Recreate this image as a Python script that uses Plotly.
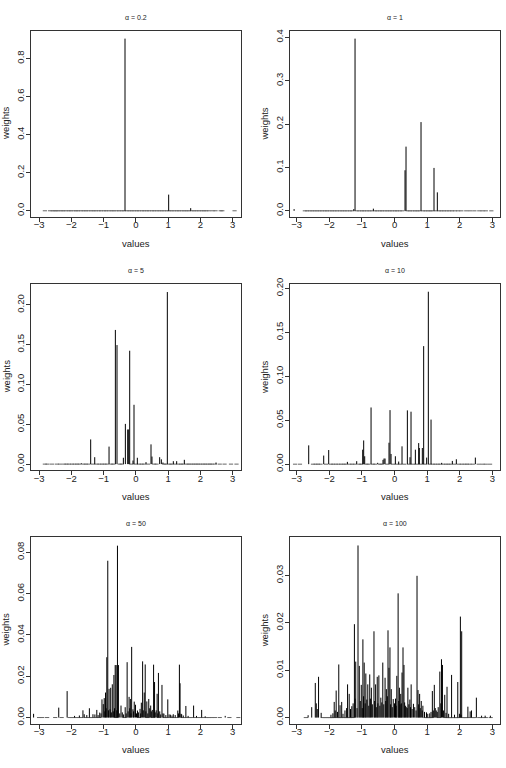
import plotly.graph_objects as go

# ---------------- data ----------------
alpha_labels = ["0.2", "1", "5", "10", "50", "100"]
x_tick_values = [-3, -2, -1, 0, 1, 2, 3]

# alpha = 0.2
a1_x = [-0.336, 1.017, 1.70]
a1_w = [0.904, 0.085, 0.014]
a1_dust = [-2.82, -2.66, -2.58, -2.52, -2.46, -2.4, -2.31, -2.25, -2.17, -2.08, -2.02, -1.93,
           -1.85, -1.79, -1.7, -1.62, -1.55, -1.47, -1.38, -1.31, -1.24, -1.15, -1.08, -0.99,
           -0.92, -0.84, -0.75, -0.69, -0.6, -0.52, -0.44, -0.37, -0.28, -0.2, -0.13, -0.05,
           0.03, 0.1, 0.19, 0.26, 0.34, 0.41, 0.5, 0.57, 0.65, 0.73, 0.8, 0.88, 0.96, 1.04,
           1.11, 1.19, 1.27, 1.34, 1.42, 1.5, 1.57, 1.64, 1.73, 1.81, 1.88, 1.96, 2.04, 2.11,
           2.18, 2.26, 2.38, 2.47, 2.63, 2.68, 3.06]

# alpha = 1
a2_x = [-3.08, -1.25, -1.211, -0.649, 0.322, 0.353, 0.813, 1.211, 1.313]
a2_w = [0.004, 0.004, 0.397, 0.005, 0.0935, 0.148, 0.2046, 0.0989, 0.0426]
a2_dust = [-2.75, -2.68, -2.6, -2.52, -2.45, -2.37, -2.3, -2.22, -2.14, -2.07, -1.99, -1.91,
           -1.84, -1.76, -1.68, -1.6, -1.53, -1.45, -1.37, -1.3, -1.16, -1.08, -1.0, -0.93,
           -0.85, -0.77, -0.7, -0.6, -0.53, -0.45, -0.38, -0.3, -0.22, -0.15, -0.07, 0.01,
           0.08, 0.16, 0.24, 0.4, 0.47, 0.55, 0.63, 0.7, 0.77, 0.88, 0.95, 1.03, 1.1, 1.16,
           1.27, 1.37, 1.44, 1.52, 1.6, 1.68, 1.76, 1.85, 1.95, 2.05, 2.2, 2.32, 2.45, 2.6,
           2.7, 2.8, 2.97]

# alpha = 5
a3_x = [-1.69, -1.40, -1.275, -0.831, -0.635, -0.584, -0.387, -0.325, -0.253, -0.222, -0.191,
        -0.088, -0.057, 0.046, 0.315, 0.47, 0.50, 0.738, 0.79, 0.84, 0.976, 1.162, 1.265,
        1.503, 2.485]
a3_w = [0.001, 0.031, 0.0087, 0.022, 0.1685, 0.1495, 0.008, 0.0505, 0.0435, 0.0435, 0.1424,
        0.0045, 0.0745, 0.008, 0.0025, 0.0248, 0.0095, 0.0087, 0.006, 0.002, 0.2161, 0.0037,
        0.0037, 0.0054, 0.002]
a3_dust = [-2.82, -2.74, -2.6, -2.45, -2.35, -2.22, -2.15, -2.07, -1.98, -1.9, -1.82, -1.75,
           -1.62, -1.55, -1.47, -1.33, -1.21, -1.13, -1.05, -0.97, -0.9, -0.76, -0.7, -0.5,
           -0.44, -0.14, 0.0, 0.1, 0.18, 0.25, 0.38, 0.57, 0.64, 0.88, 0.93, 1.05, 1.1, 1.21,
           1.32, 1.4, 1.46, 1.58, 1.64, 1.72, 1.79, 1.86, 1.93, 2.0, 2.08, 2.15, 2.22, 2.3,
           2.35, 2.45, 2.6, 2.75, 2.95, 3.12]

# alpha = 10
a4_x = [-2.632, -2.172, -2.019, -1.446, -1.16, -0.976, -0.946, -0.915, -0.72, -0.516, -0.353,
        -0.322, -0.291, -0.169, -0.138, -0.107, 0.026, 0.128, 0.23, 0.394, 0.475, 0.506, 0.639,
        0.741, 0.761, 0.853, 0.894, 0.986, 1.037, 1.12, 1.446, 1.773, 1.896, 2.479]
a4_w = [0.0214, 0.0098, 0.0161, 0.0026, 0.0034, 0.0165, 0.027, 0.009, 0.0645, 0.0015, 0.0049,
        0.0064, 0.0064, 0.0244, 0.0615, 0.0116, 0.009, 0.003, 0.0203, 0.0612, 0.0079, 0.0597,
        0.0165, 0.024, 0.0184, 0.0184, 0.1343, 0.0075, 0.1962, 0.0507, 0.0015, 0.0037, 0.0056,
        0.0075]
a4_dust = [-3.05, -2.9, -2.5, -2.42, -2.35, -2.27, -2.1, -1.95, -1.88, -1.8, -1.72, -1.64,
           -1.56, -1.5, -1.38, -1.3, -1.22, -1.08, -1.02, -0.86, -0.8, -0.66, -0.6, -0.45,
           -0.4, -0.22, -0.05, 0.07, 0.17, 0.3, 0.45, 0.57, 0.68, 0.8, 0.93, 1.08, 1.18, 1.25,
           1.33, 1.4, 1.5, 1.58, 1.65, 1.72, 1.84, 1.98, 2.06, 2.15, 2.22, 2.3, 2.4, 2.58,
           2.7, 2.8, 2.93]

# alpha = 50
a5_x = [-3.17, -2.39, -2.13, -1.9, -1.75, -1.64, -1.60, -1.52, -1.44, -1.33, -1.27, -1.21,
        -1.17, -1.12, -1.08, -1.05, -1.01, -0.98, -0.96, -0.94, -0.92, -0.90, -0.87, -0.85,
        -0.83, -0.80, -0.78, -0.76, -0.73, -0.70, -0.68, -0.66, -0.64, -0.61, -0.59, -0.57,
        -0.54, -0.50, -0.46, -0.42, -0.38, -0.33, -0.30, -0.27, -0.24, -0.21, -0.19, -0.17,
        -0.15, -0.13, -0.09, -0.07, -0.05, -0.01, 0.02, 0.05, 0.08, 0.13, 0.15, 0.17, 0.21,
        0.23, 0.26, 0.29, 0.31, 0.34, 0.37, 0.40, 0.43, 0.46, 0.48, 0.51, 0.55, 0.58, 0.60,
        0.63, 0.66, 0.68, 0.70, 0.74, 0.77, 0.81, 0.84, 0.87, 0.93, 0.99, 1.03, 1.07, 1.12,
        1.16, 1.22, 1.30, 1.32, 1.35, 1.37, 1.40, 1.42, 1.47, 1.55, 1.62, 1.79, 1.88, 2.04,
        2.15, 2.77]
a5_w = [0.0018, 0.0048, 0.0128, 0.0008, 0.001, 0.0035, 0.0016, 0.0012, 0.0045, 0.0016,
        0.0015, 0.0037, 0.0012, 0.0024, 0.002, 0.0088, 0.0065, 0.0094, 0.003, 0.0121, 0.0045,
        0.0292, 0.0759, 0.0035, 0.0139, 0.004, 0.0144, 0.0025, 0.0161, 0.003, 0.0206, 0.0045,
        0.0254, 0.0254, 0.0035, 0.0832, 0.0254, 0.002, 0.0058, 0.0025, 0.0015, 0.005, 0.002,
        0.0268, 0.003, 0.01, 0.0045, 0.009, 0.002, 0.0342, 0.004, 0.003, 0.0077, 0.0062,
        0.002, 0.0034, 0.0025, 0.0042, 0.002, 0.0072, 0.0272, 0.0035, 0.0121, 0.0257, 0.003,
        0.0078, 0.002, 0.009, 0.0045, 0.0058, 0.003, 0.0037, 0.0256, 0.0172, 0.0025, 0.0035,
        0.0115, 0.002, 0.0216, 0.003, 0.0015, 0.0158, 0.002, 0.0019, 0.0012, 0.0088, 0.0015,
        0.0014, 0.001, 0.0016, 0.0012, 0.0034, 0.002, 0.0256, 0.0166, 0.0018, 0.0016, 0.001,
        0.0056, 0.0008, 0.0058, 0.0008, 0.0037, 0.0006, 0.0008]
a5_dust = [-3.0, -2.9, -2.75, -2.5, -2.3, -2.05, -1.98, -1.92, -1.84, -1.78, -1.7, -1.56,
           -1.48, -1.4, -1.36, -1.24, -1.14, -0.6, -0.35, 0.1, 0.36, 0.53, 0.72, 0.9, 0.96,
           1.1, 1.19, 1.26, 1.45, 1.5, 1.58, 1.67, 1.72, 1.84, 1.93, 2.0, 2.1, 2.2, 2.27,
           2.35, 2.45, 2.6, 2.9, 3.18]

# alpha = 100
a6_x = [-2.65, -2.54, -2.43, -2.40, -2.37, -2.33, -2.25, -1.95, -1.89, -1.85, -1.82, -1.79,
        -1.75, -1.71, -1.67, -1.62, -1.58, -1.52, -1.47, -1.44, -1.39, -1.35, -1.31, -1.27,
        -1.23, -1.21, -1.19, -1.15, -1.12, -1.08, -1.05, -1.02, -0.99, -0.97, -0.95, -0.93,
        -0.90, -0.88, -0.85, -0.82, -0.79, -0.76, -0.74, -0.71, -0.68, -0.63, -0.61, -0.58,
        -0.56, -0.53, -0.51, -0.48, -0.45, -0.42, -0.39, -0.36, -0.33, -0.29, -0.27, -0.25,
        -0.22, -0.20, -0.17, -0.14, -0.12, -0.10, -0.07, -0.04, 0.0, 0.03, 0.05, 0.07, 0.11,
        0.13, 0.15, 0.17, 0.19, 0.21, 0.23, 0.26, 0.29, 0.31, 0.34, 0.36, 0.39, 0.41, 0.44,
        0.47, 0.49, 0.51, 0.54, 0.58, 0.62, 0.66, 0.69, 0.72, 0.74, 0.77, 0.79, 0.82, 0.85,
        0.87, 0.92, 0.98, 1.02, 1.08, 1.12, 1.16, 1.19, 1.22, 1.25, 1.28, 1.31, 1.34, 1.39,
        1.42, 1.44, 1.47, 1.50, 1.54, 1.58, 1.61, 1.66, 1.75, 1.84, 1.94, 1.99, 2.02, 2.04,
        2.06, 2.25, 2.32, 2.36, 2.51, 2.67, 2.78, 2.94]
a6_w = [0.0005, 0.0022, 0.0073, 0.003, 0.0018, 0.0086, 0.001, 0.0006, 0.0009, 0.0033, 0.0015,
        0.0057, 0.0012, 0.0112, 0.0026, 0.0033, 0.0008, 0.0015, 0.002, 0.007, 0.005, 0.0018,
        0.0024, 0.003, 0.0197, 0.004, 0.0118, 0.002, 0.0363, 0.0109, 0.0035, 0.0069, 0.002,
        0.0165, 0.0045, 0.0116, 0.003, 0.0093, 0.0038, 0.007, 0.0025, 0.0091, 0.004, 0.0063,
        0.0028, 0.0182, 0.0035, 0.007, 0.0022, 0.0086, 0.003, 0.0089, 0.0025, 0.0042, 0.0032,
        0.0116, 0.0028, 0.0084, 0.0035, 0.006, 0.0045, 0.0184, 0.0105, 0.0148, 0.0028, 0.006,
        0.0022, 0.0039, 0.003, 0.004, 0.0025, 0.0088, 0.0262, 0.0035, 0.0063, 0.0028, 0.005,
        0.003, 0.0095, 0.0148, 0.0111, 0.0032, 0.0025, 0.0022, 0.002, 0.0063, 0.0028, 0.0038,
        0.0022, 0.007, 0.0018, 0.0029, 0.0022, 0.0015, 0.0299, 0.0058, 0.0028, 0.005, 0.002,
        0.0035, 0.0015, 0.0025, 0.0012, 0.0011, 0.0008, 0.0009, 0.0012, 0.0056, 0.0015, 0.0069,
        0.002, 0.0015, 0.0012, 0.0022, 0.0097, 0.003, 0.0123, 0.0111, 0.0015, 0.0048, 0.001,
        0.0065, 0.0008, 0.009, 0.0006, 0.0075, 0.0008, 0.0213, 0.0006, 0.0182, 0.0023, 0.0013,
        0.0015, 0.0042, 0.0004, 0.0004, 0.0004]
a6_dust = [-2.72, -2.2, -2.14, -2.08, -2.02, -1.98, -1.92, -1.87, -1.77, -1.69, -1.64, -1.55,
           -1.49, -1.42, -1.37, -1.29, 0.95, 1.0, 1.05, 1.1, 1.14, 1.36, 1.56, 1.63, 1.68,
           1.71, 1.78, 1.81, 1.88, 1.91, 1.97, 2.1, 2.15, 2.2, 2.28, 2.4, 2.45, 2.6, 2.7,
           2.8, 2.95]

spike_x = [a1_x, a2_x, a3_x, a4_x, a5_x, a6_x]
spike_w = [a1_w, a2_w, a3_w, a4_w, a5_w, a6_w]
dust_x = [a1_dust, a2_dust, a3_dust, a4_dust, a5_dust, a6_dust]

# ---------------- layout ----------------
W, H = 506, 768
col_px = [(31.0, 240.7), (289.7, 500.0)]
row_px = [(25.0, 213.3), (281.0, 469.3), (537.0, 725.3)]
x_ranges = [[-3.25, 3.25], [-3.215, 3.235]]
y_ranges = [[-0.033, 0.9455], [-0.0144, 0.4152], [-0.0079, 0.2261],
            [-0.0071, 0.2049], [-0.0030, 0.0872], [-0.0013, 0.0380]]
y_dticks = [0.2, 0.1, 0.05, 0.05, 0.02, 0.01]
y_formats = [".1f", ".1f", ".2f", ".2f", ".2f", ".2f"]

FONT = "Liberation Sans, Arial, sans-serif"
INK = "#222222"

fig = go.Figure()
layout = dict(width=W, height=H, margin=dict(l=0, r=0, t=0, b=0),
              paper_bgcolor="white", plot_bgcolor="white", showlegend=False,
              font=dict(family=FONT, size=9, color=INK))
annotations = []

for i in range(6):
    r, c = divmod(i, 2)
    n = i + 1
    xa = "x" if n == 1 else f"x{n}"
    ya = "y" if n == 1 else f"y{n}"
    xs, ys = [], []
    for xv, wv in zip(spike_x[i], spike_w[i]):
        xs += [xv, xv, None]
        ys += [0, wv, None]
    fig.add_trace(go.Scatter(x=dust_x[i], y=[0] * len(dust_x[i]), mode="markers",
                             xaxis=xa, yaxis=ya, hoverinfo="skip",
                             marker=dict(symbol="line-ew", size=3,
                                         line=dict(color="#666666", width=1))))
    fig.add_trace(go.Scatter(x=xs, y=ys, mode="lines", xaxis=xa, yaxis=ya,
                             line=dict(color="black", width=1), hoverinfo="skip"))
    x0, x1 = col_px[c]
    y0, y1 = row_px[r]
    xd = [x0 / W, x1 / W]
    yd = [1 - y1 / H, 1 - y0 / H]
    axcommon = dict(showline=True, mirror=True, linecolor="#333333", linewidth=1,
                    ticks="outside", ticklen=4, tickwidth=1, tickcolor="#333333",
                    showgrid=False, zeroline=False, tickfont=dict(size=9.5, color=INK))
    layout["xaxis" if n == 1 else f"xaxis{n}"] = dict(
        axcommon, domain=xd, range=x_ranges[c], tickvals=x_tick_values,
        anchor=ya, ticklabelstandoff=-5)
    layout["yaxis" if n == 1 else f"yaxis{n}"] = dict(
        axcommon, domain=yd, range=y_ranges[i], tick0=0, dtick=y_dticks[i],
        tickformat=y_formats[i], tickangle=-90, anchor=xa, ticklabelstandoff=-2)
    xc = (xd[0] + xd[1]) / 2
    annotations.append(dict(text="α = " + alpha_labels[i], x=xc, y=yd[1], xref="paper",
                            yref="paper", yanchor="middle", xanchor="center", yshift=13.5,
                            showarrow=False, font=dict(size=7, color=INK)))
    annotations.append(dict(text="values", x=xc, y=yd[0], xref="paper", yref="paper",
                            yanchor="middle", xanchor="center", yshift=-26,
                            showarrow=False, font=dict(size=9.5, color=INK)))
    annotations.append(dict(text="weights", x=xd[0], y=(yd[0] + yd[1]) / 2, xref="paper",
                            yref="paper", xanchor="center", yanchor="middle", xshift=-25,
                            textangle=-90, showarrow=False, font=dict(size=9.5, color=INK)))

layout["annotations"] = annotations
fig.update_layout(**layout)
fig.write_html("out.html")
